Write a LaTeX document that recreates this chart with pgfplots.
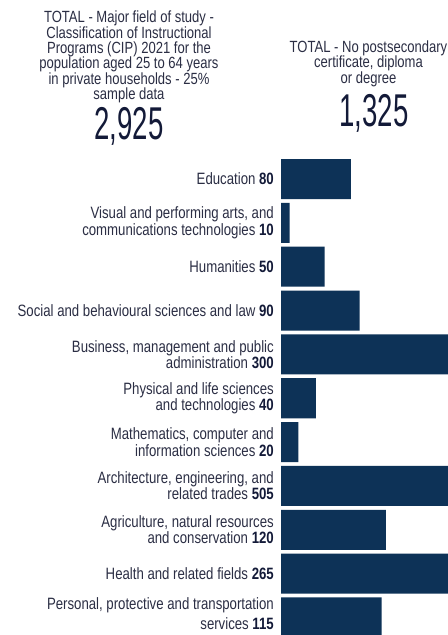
\documentclass[border=0pt]{standalone}
\usepackage{fontspec}
\usepackage{pgfplots}
\pgfplotsset{compat=1.18}
\setmainfont{Liberation Sans}[FakeStretch=0.805]
\newfontfamily\bignum{Liberation Sans}[FakeStretch=0.6]
\definecolor{barcol}{HTML}{0D3257}
\definecolor{labelcol}{HTML}{2B2E44}
\definecolor{numcol}{HTML}{131A38}
\newcommand{\n}[1]{\textcolor{numcol}{\textbf{#1}}}
\newcommand{\lblfont}{\fontsize{16.4bp}{14.3bp}\selectfont}

\begin{document}
\begin{tikzpicture}
\path[use as bounding box, fill=white] (0,0) rectangle (448bp,635bp);

% headers
\node[align=center, anchor=north, inner sep=0pt, text=labelcol,
  font=\fontsize{16.2bp}{15.3bp}\selectfont] at (129bp,624bp)
  {TOTAL - Major field of study -\\Classification of Instructional\\Programs (CIP) 2021 for the\\population aged 25 to 64 years\\in private households - 25\%\\sample data};
\node[anchor=base, inner sep=0pt, text=numcol,
  font=\bignum\fontsize{46bp}{46bp}\selectfont] at (129bp,495bp) {2,925};

\node[align=center, anchor=north, inner sep=0pt, text=labelcol,
  font=\fontsize{16.2bp}{15.3bp}\selectfont] at (368.5bp,594.3bp)
  {TOTAL - No postsecondary\\certificate, diploma\\or degree};
\node[anchor=base, inner sep=0pt, text=numcol,
  font=\bignum\fontsize{46bp}{46bp}\selectfont] at (374bp,508.3bp) {1,325};

\begin{axis}[
  at={(281bp,0bp)}, anchor=south west,
  scale only axis, width=167bp, height=477.9bp,
  xbar, bar width=0.913, bar shift=0pt,
  xmin=0, xmax=190.9, ymin=-0.5, ymax=10.4, y dir=reverse,
  axis line style={draw=none}, xtick=\empty,
  ytick={0,...,10}, major tick length=0pt,
  yticklabels={
    {Education \n{80}},
    {Visual and performing arts, and\\communications technologies \n{10}},
    {Humanities \n{50}},
    {Social and behavioural sciences and law \n{90}},
    {Business, management and public\\administration \n{300}},
    {Physical and life sciences\\and technologies \n{40}},
    {Mathematics, computer and\\information sciences \n{20}},
    {Architecture, engineering, and\\related trades \n{505}},
    {Agriculture, natural resources\\and conservation \n{120}},
    {Health and related fields \n{265}},
    {Personal, protective and transportation\\[4bp]services \n{115}\\[-6bp]\mbox{}}
  },
  yticklabel style={align=right, inner sep=0pt, xshift=-7bp,
    font=\lblfont, text=labelcol},
]
\addplot[fill=barcol, draw=none] coordinates {
  (80,0) (10,1) (50,2) (90,3) (300,4) (40,5) (20,6)
  (505,7) (120,8) (265,9) (115,10)
};
\end{axis}
\end{tikzpicture}
\end{document}
